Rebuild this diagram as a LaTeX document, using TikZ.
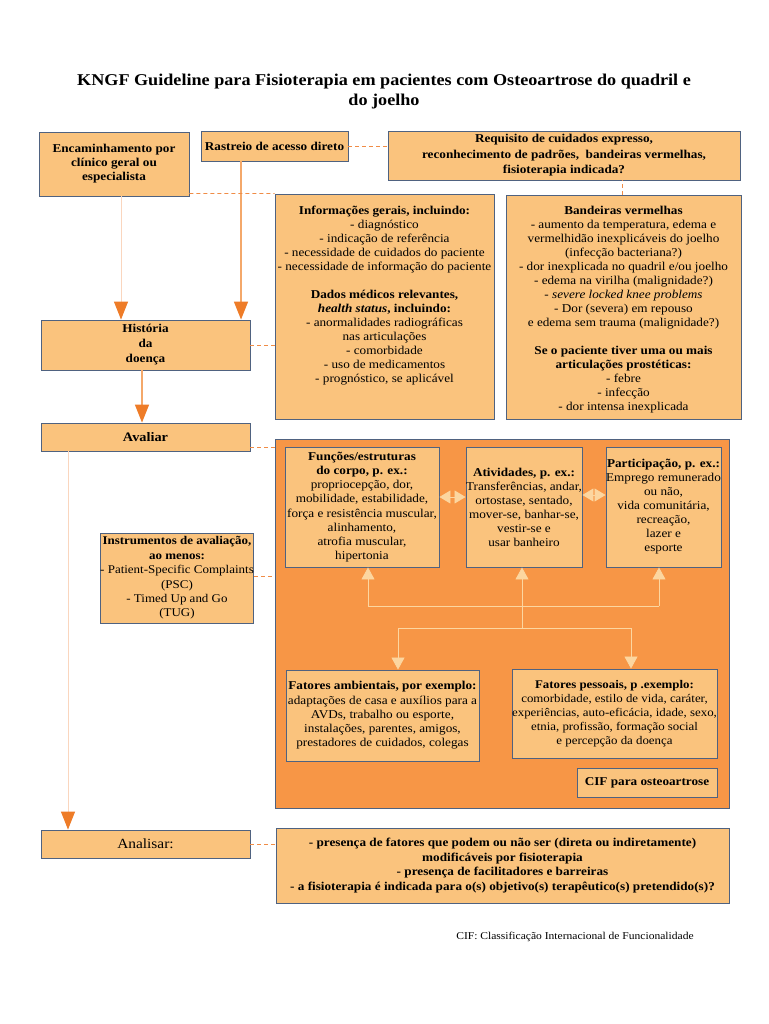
\documentclass[tikz,border=0pt]{standalone}
\usepackage{fontspec}
\setmainfont{Liberation Serif}[FakeStretch=1.1]
\usetikzlibrary{arrows.meta,calc}
\definecolor{boxfill}{RGB}{250,195,125}
\definecolor{icffill}{RGB}{247,150,70}
\definecolor{bordc}{RGB}{79,98,128}
\definecolor{arrowc}{RGB}{238,124,40}
\definecolor{linec}{RGB}{244,168,106}
\definecolor{faintc}{RGB}{250,214,190}
\definecolor{palec}{RGB}{252,214,160}
\definecolor{dashc}{RGB}{240,140,70}
\begin{document}
\begin{tikzpicture}[x=1pt,y=-1pt,
  box/.style={draw=bordc, line width=0.9pt, fill=boxfill, inner sep=0pt, align=center},
  txt/.style={align=center, inner sep=0pt, font=\fontsize{12}{14}\selectfont},
  bigarrow/.style={draw=linec, line width=1.4pt, -{Triangle[width=14pt,length=18pt,color=arrowc]}},
  faintarrow/.style={draw=faintc, line width=1pt, -{Triangle[width=14pt,length=18pt,color=arrowc]}},
  dashlink/.style={draw=dashc, line width=0.8pt, dash pattern=on 4pt off 3pt},
  paleline/.style={draw=palec, line width=0.8pt},
  palearrow/.style={draw=palec, line width=0.8pt, -{Triangle[width=13pt,length=12pt,color=palec]}},
  paledouble/.style={draw=palec, line width=0.8pt, {Triangle[width=13pt,length=11pt,color=palec]}-{Triangle[width=13pt,length=11pt,color=palec]}}
]
\useasboundingbox[fill=white] (0,0) rectangle (768,1024);

% title
\node[align=center, inner sep=0pt, font=\bfseries\fontsize{16.5}{20}\selectfont] (title) at (384,92)
  {KNGF Guideline para Fisioterapia em pacientes com Osteoartrose do quadril e\\do joelho};

% top row
\node[box, minimum width=150pt, minimum height=64pt, font=\bfseries\fontsize{12}{14}\selectfont] (enc) at (114,164)
  {Encaminhamento por\\clínico geral ou\\especialista};
\node[box, minimum width=147pt, minimum height=30pt, font=\bfseries\fontsize{12}{14}\selectfont] (rast) at (274.5,146)
  {Rastreio de acesso direto};
\node[box, minimum width=352pt, minimum height=49pt, font=\bfseries\fontsize{12}{15.5}\selectfont] (req) at (564,155.5)
  {Requisito de cuidados expresso,\\reconhecimento de padrões,\ \ bandeiras vermelhas,\\fisioterapia indicada?};

% info and red flags
\node[box, minimum width=219pt, minimum height=225pt] (info) at (384.5,306.5) {};
\node[txt] (infot) at (384.5,296)
  {\textbf{Informações gerais, incluindo:}\\
   - diagnóstico\\
   - indicação de referência\\
   - necessidade de cuidados do paciente\\
   - necessidade de informação do paciente\\[14pt]
   \textbf{Dados médicos relevantes,}\\
   \textbf{\textit{health status}, incluindo:}\\
   - anormalidades radiográficas\\
   nas articulações\\
   - comorbidade\\
   - uso de medicamentos\\
   - prognóstico, se aplicável};
\node[box, minimum width=235pt, minimum height=224pt] (flags) at (623.5,307) {};
\node[txt] (flagst) at (623.5,310)
  {\textbf{Bandeiras vermelhas}\\
   - aumento da temperatura, edema e\\
   vermelhidão inexplicáveis do joelho\\
   (infecção bacteriana?)\\
   - dor inexplicada no quadril e/ou joelho\\
   - edema na virilha (malignidade?)\\
   - \textit{severe locked knee problems}\\
   - Dor (severa) em repouso\\
   e edema sem trauma (malignidade?)\\[14pt]
   \textbf{Se o paciente tiver uma ou mais}\\
   \textbf{articulações prostéticas:}\\
   - febre\\
   - infecção\\
   - dor intensa inexplicada};

% left column
\node[box, minimum width=209pt, minimum height=50pt, font=\bfseries\fontsize{12}{15}\selectfont] (hist) at (145.5,345)
  {História\\da\\doença};
\node[box, minimum width=209pt, minimum height=28pt, font=\bfseries\fontsize{13}{16}\selectfont] (aval) at (145.5,437)
  {Avaliar};
\node[box, minimum width=152pt, minimum height=90pt, font=\fontsize{11.8}{14.4}\selectfont] (instr) at (177,578)
  {\textbf{Instrumentos de avaliação,}\\\textbf{ao menos:}\\- Patient-Specific Complaints\\(PSC)\\- Timed Up and Go\\(TUG)};
\node[box, minimum width=209pt, minimum height=28pt, font=\fontsize{14}{16}\selectfont] (anal) at (145.5,844)
  {Analisar:};

% ICF block
\node[draw=bordc, line width=0.9pt, fill=icffill, minimum width=454pt, minimum height=369pt, inner sep=0pt] (icf) at (502,623.5) {};
\node[box, minimum width=154pt, minimum height=120pt, font=\fontsize{12}{14.2}\selectfont] (func) at (362,507)
  {\textbf{Funções/estruturas}\\\textbf{do corpo, p. ex.:}\\propriocepção, dor,\\mobilidade, estabilidade,\\força e resistência muscular,\\alinhamento,\\atrofia muscular,\\hipertonia};
\node[box, minimum width=116pt, minimum height=120pt, font=\fontsize{12}{14}\selectfont] (ativ) at (524,507)
  {\textbf{Atividades, p. ex.:}\\Transferências, andar,\\ortostase, sentado,\\mover-se, banhar-se,\\vestir-se e\\usar banheiro};
\node[box, minimum width=115pt, minimum height=120pt, font=\fontsize{12}{14}\selectfont] (part) at (663.5,507)
  {\textbf{Participação, p. ex.:}\\Emprego remunerado\\ou não,\\vida comunitária,\\recreação,\\lazer e\\esporte};
\node[box, minimum width=193pt, minimum height=91pt, font=\fontsize{12}{14.2}\selectfont] (amb) at (382.5,715.5)
  {\textbf{Fatores ambientais, por exemplo:}\\adaptações de casa e auxílios para a\\AVDs, trabalho ou esporte,\\instalações, parentes, amigos,\\prestadores de cuidados, colegas};
\node[box, minimum width=205pt, minimum height=89pt, font=\fontsize{11.7}{14}\selectfont] (pess) at (614.5,713.5)
  {\textbf{Fatores pessoais, p .exemplo:}\\comorbidade, estilo de vida, caráter,\\experiências, auto-eficácia, idade, sexo,\\etnia, profissão, formação social\\e percepção da doença};
\node[box, minimum width=140pt, minimum height=29pt, font=\bfseries\fontsize{12}{14}\selectfont] (cif) at (647,782.5)
  {CIF para osteoartrose};

% analysis text
\node[box, minimum width=453pt, minimum height=75pt, font=\bfseries\fontsize{12}{14.4}\selectfont] (analt) at (502.5,865.5)
  {- presença de fatores que podem ou não ser (direta ou indiretamente)\\modificáveis por fisioterapia\\- presença de facilitadores e barreiras\\- a fisioterapia é indicada para o(s) objetivo(s) terapêutico(s) pretendido(s)?};

% footnote
\node[inner sep=0pt, font=\fontsize{10.5}{12}\selectfont] (foot) at (575,937)
  {CIF: Classificação Internacional de Funcionalidade};

% main arrows
\draw[faintarrow] ([xshift=7pt]enc.south) -- ([xshift=-24.5pt]hist.north);
\draw[bigarrow] ([xshift=-33.5pt]rast.south) -- ([xshift=95.5pt]hist.north);
\draw[bigarrow] ([xshift=-3.5pt]hist.south) -- ([xshift=-3.5pt]aval.north);
\draw[faintarrow] ([xshift=-77.5pt]aval.south) -- ([xshift=-77.5pt]anal.north);

% dashed links
\draw[dashlink] (rast.east) -- (rast.east -| req.west);
\draw[dashlink] ([xshift=-1.5pt]flags.north) -- ([xshift=-1.5pt]flags.north |- req.south);
\draw[dashlink] ([yshift=3pt]enc.south east) -- (info.north west);
\draw[dashlink] (hist.east) -- (hist.east -| info.west);
\draw[dashlink] ([yshift=-10pt]aval.east) -- ([yshift=-10pt]aval.east -| icf.west);
\draw[dashlink] ([yshift=2pt]instr.east) -- ([yshift=2pt]instr.east -| icf.west);
\draw[dashlink] (anal.east) -- (anal.east -| analt.west);

% ICF internal links
\draw[paledouble] ([yshift=10pt]func.east) -- ([yshift=10pt]ativ.west);
\draw[paledouble] ([yshift=12pt]ativ.east) -- ([yshift=12pt]part.west);
\coordinate (jL) at (368,606);
\coordinate (jM) at (522,606);
\coordinate (jR) at (659,606);
\coordinate (jD) at (522,628);
\coordinate (aL) at (398,628);
\coordinate (aR) at (631,628);
\draw[paleline] (jL) -- (jR);
\draw[paleline] (jD) -- (jM);
\draw[paleline] (aL) -- (aR);
\draw[palearrow] (jL) -- (jL |- func.south);
\draw[palearrow] (jM) -- (jM |- ativ.south);
\draw[palearrow] (jR) -- (jR |- part.south);
\draw[palearrow] (aL) -- (aL |- amb.north);
\draw[palearrow] (aR) -- (aR |- pess.north);
\end{tikzpicture}
\end{document}
